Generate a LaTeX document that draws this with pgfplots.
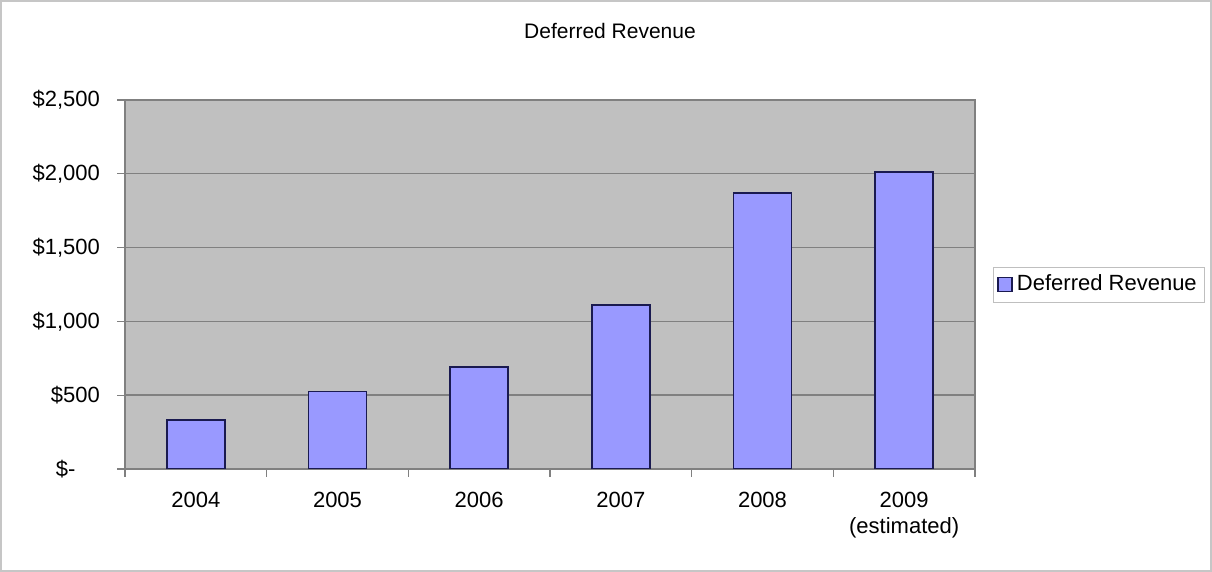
\documentclass[border=0pt]{standalone}
\usepackage{pgfplots}
\pgfplotsset{compat=1.18}
\usepackage{fontspec}
\setmainfont{Liberation Sans}
\definecolor{plotbg}{HTML}{C0C0C0}
\definecolor{barfill}{HTML}{9999FF}
\definecolor{baredge}{HTML}{1A1A50}
\definecolor{gridc}{HTML}{808080}
\begin{document}
\begin{tikzpicture}
\useasboundingbox (0,0) rectangle (606pt,286pt);
\draw[gray!45, line width=0.6pt] (0.5pt,0.5pt) rectangle (605.5pt,285.5pt);
\node[font=\fontsize{10.5}{12}\selectfont] at (305pt,270.5pt) {Deferred Revenue};
\begin{axis}[
  at={(62.5pt,51.5pt)}, anchor=south west,
  scale only axis, width=425pt, height=184.5pt,
  xmin=-0.5, xmax=5.5, ymin=0, ymax=2500,
  axis background/.style={fill=plotbg},
  axis line style={gridc, line width=0.8pt},
  xtick={0,...,5},
  xticklabels={2004,2005,2006,2007,2008,{2009\\(estimated)}},
  minor xtick={-0.5,0.5,...,5.5},
  major x tick style={draw=none},
  minor x tick style={gridc, line width=0.6pt},
  minor tick length=4pt,
  ytick={0,500,...,2500},
  yticklabels={{\$-\hphantom{00}},{\$500},{\$1,000},{\$1,500},{\$2,000},{\$2,500}},
  ymajorgrids,
  grid style={gridc, line width=0.7pt},
  major tick length=4pt,
  tick align=outside,
  y tick style={gridc, line width=0.6pt},
  xtick pos=bottom, ytick pos=left,
  tick label style={font=\fontsize{11}{13}\selectfont, text=black},
  xticklabel style={align=center, yshift=-4pt},
  yticklabel style={xshift=-5pt},
  legend style={at={([xshift=9pt]axis description cs:1,0.5)}, anchor=west,
    draw=gray!50, font=\fontsize{11}{13}\selectfont, inner sep=2pt,
    legend cell align=left},
  legend image code/.code={\draw[#1] (0pt,-3.5pt) rectangle (7pt,3.5pt);},
]
\addplot[ybar, bar width=29pt, fill=barfill, draw=baredge, line width=0.8pt]
  coordinates {(0,332) (1,524) (2,691) (3,1111) (4,1868) (5,2012)};
\addlegendentry{Deferred Revenue}
\end{axis}
\end{tikzpicture}
\end{document}
